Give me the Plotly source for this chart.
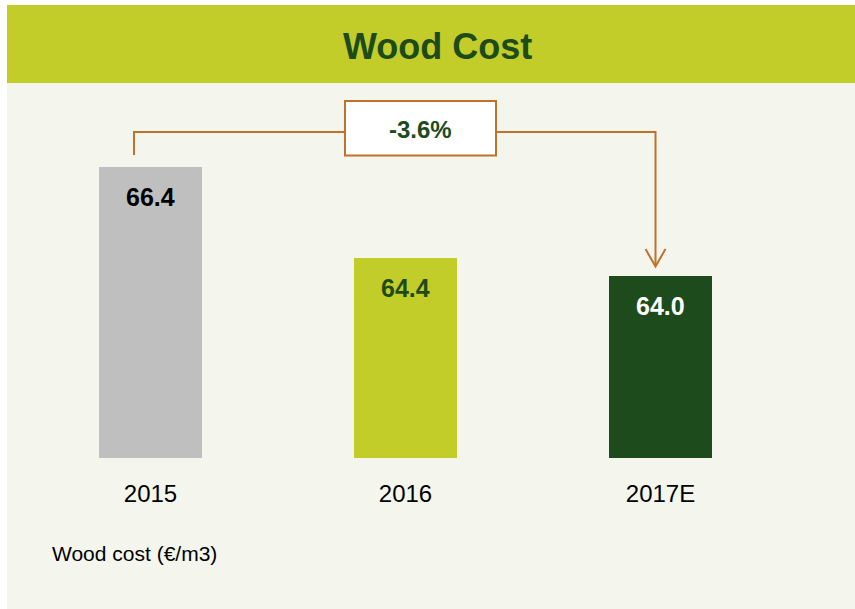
import plotly.graph_objects as go

categories = ["2015", "2016", "2017E"]
values = [66.4, 64.4, 64.0]
bar_colors = ["#BFBFBF", "#C2CD2A", "#1E4B1B"]
label_colors = ["#000000", "#1E4B1B", "#FFFFFF"]
change_label = "-3.6%"
title_text = "Wood Cost"
unit_text = "Wood cost (€/m3)"
axis_base = 60.0

W, H = 855, 609
L, R, T, B = 23, 67, 100, 151
pw, ph = W - L - R, H - T - B

def px(x):
    return (x - L) / pw

def py(y):
    return (H - B - y) / ph

FONT = "Liberation Sans, Arial, sans-serif"
ORANGE = "#C0712A"
DARK = "#1E4B1B"

fig = go.Figure()
fig.add_trace(go.Bar(
    x=categories,
    y=[v - axis_base for v in values],
    base=axis_base,
    marker=dict(color=bar_colors, line=dict(width=0)),
    width=0.404,
    hoverinfo="skip",
))

shapes = [
    dict(type="rect", xref="paper", yref="paper", x0=px(7), x1=px(W + 5), y0=py(5), y1=py(H + 5),
         fillcolor="#F4F6EE", line=dict(width=0), layer="below"),
    dict(type="rect", xref="paper", yref="paper", x0=px(7), x1=px(W + 5), y0=py(5), y1=py(83),
         fillcolor="#C2CD2A", line=dict(width=0), layer="below"),
    dict(type="path", xref="paper", yref="paper",
         path=f"M {px(134)} {py(155)} L {px(134)} {py(132)} L {px(345)} {py(132)}",
         line=dict(color=ORANGE, width=2)),
    dict(type="path", xref="paper", yref="paper",
         path=f"M {px(497)} {py(132)} L {px(655.5)} {py(132)} L {px(655.5)} {py(266)}",
         line=dict(color=ORANGE, width=2)),
    dict(type="path", xref="paper", yref="paper",
         path=f"M {px(645.5)} {py(249)} L {px(655.5)} {py(266.5)} L {px(665.5)} {py(249)}",
         line=dict(color=ORANGE, width=2)),
    dict(type="rect", xref="paper", yref="paper", x0=px(345), x1=px(496), y0=py(101), y1=py(155.5),
         fillcolor="#FFFFFF", line=dict(color=ORANGE, width=2)),
]

annotations = [
    dict(text=f"<b>{title_text}</b>", xref="paper", yref="paper", x=px(437.5), y=py(46),
         showarrow=False, font=dict(family=FONT, size=36, color=DARK), xanchor="center", yanchor="middle"),
    dict(text=f"<b>{change_label}</b>", xref="paper", yref="paper", x=px(420.5), y=py(129),
         showarrow=False, font=dict(family=FONT, size=24, color=DARK), xanchor="center", yanchor="middle"),
    dict(text=unit_text, xref="paper", yref="paper", x=px(50), y=py(553),
         showarrow=False, font=dict(family=FONT, size=21, color="#000000"), xanchor="left", yanchor="middle"),
]
for i, (v, col) in enumerate(zip(values, label_colors)):
    annotations.append(dict(text=f"<b>{v:.1f}</b>", x=i, y=v, xref="x", yref="y", yshift=-30,
                            showarrow=False, font=dict(family=FONT, size=25, color=col),
                            xanchor="center", yanchor="middle"))

fig.update_layout(
    width=W, height=H,
    margin=dict(l=L, r=R, t=T, b=B, pad=0),
    paper_bgcolor="#FFFFFF",
    plot_bgcolor="rgba(0,0,0,0)",
    showlegend=False,
    shapes=shapes,
    annotations=annotations,
    bargap=0,
    xaxis=dict(type="category", range=[-0.5, 2.5], showgrid=False, zeroline=False, showline=False,
               ticks="outside", ticklen=14, tickcolor="rgba(0,0,0,0)",
               tickfont=dict(family=FONT, size=24, color="#000000"), fixedrange=True),
    yaxis=dict(range=[axis_base, axis_base + ph / 45.4], visible=False, fixedrange=True),
)

fig.write_html("out.html", config={"displayModeBar": False},
               post_script="document.body.style.margin='0';document.body.style.overflow='hidden';")
